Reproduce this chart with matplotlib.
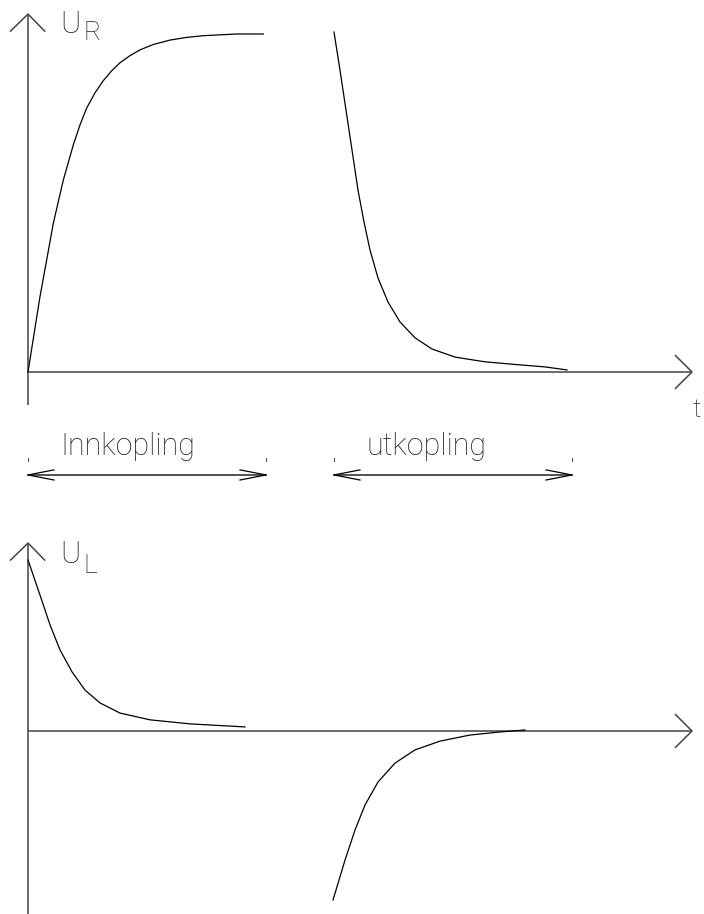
import matplotlib
matplotlib.use("Agg")
import matplotlib.pyplot as plt

# U_R during switch-on (charging) and switch-off (decay), t in ms, U normalised
t_ur_on = [0, 0.3, 0.633, 0.883, 1.133, 1.3, 1.467, 1.675, 1.883, 2.092, 2.3, 2.55,
           2.8, 3.133, 3.55, 3.967, 4.383, 5.217, 5.883]
ur_on = [0, 0.223, 0.440, 0.568, 0.672, 0.731, 0.781, 0.826, 0.862, 0.891, 0.915, 0.936,
         0.953, 0.969, 0.982, 0.990, 0.995, 1.0, 1.0]
t_ur_off = [7.65, 7.8, 7.95, 8.1, 8.25, 8.4, 8.55, 8.75, 9.0, 9.3, 9.675, 10.1,
            10.675, 11.425, 12.3, 12.925, 13.475]
ur_off = [1.006, 0.893, 0.775, 0.657, 0.538, 0.444, 0.361, 0.278, 0.207, 0.148, 0.101, 0.068,
          0.044, 0.030, 0.021, 0.015, 0.006]

# U_L over the same two intervals
t_ul_on = [0, 0.3, 0.55, 0.8, 1.1, 1.425, 1.8, 2.3, 3.05, 4.05, 5.425]
ul_on = [0.506, 0.402, 0.314, 0.240, 0.175, 0.121, 0.083, 0.053, 0.033, 0.021, 0.012]
t_ul_off = [7.625, 7.925, 8.175, 8.425, 8.75, 9.175, 9.675, 10.3, 11.05, 11.8, 12.425]
ul_off = [-0.5, -0.382, -0.293, -0.219, -0.151, -0.095, -0.056, -0.030, -0.012, -0.003, 0.003]

# interval markers under the U_R plot
intervals = [(0.0, 5.95, "Innkopling"), (7.65, 13.6, "utkopling")]

FONT = dict(family=["Roboto", "DejaVu Sans"], fontweight="light", color="#222222")
AX_KW = dict(color="#444444", lw=1.1, solid_capstyle="butt")
CURVE_KW = dict(color="black", lw=0.9, solid_joinstyle="round")

fig = plt.figure(figsize=(7.04, 9.14), dpi=100)
ax_r = fig.add_axes([0, 0.4530, 1, 0.5470])
ax_l = fig.add_axes([0, 0.0, 1, 0.4530])
ax_r.set_xlim(-0.7, 16.9)
ax_r.set_ylim(-0.3787, 1.1006)
ax_l.set_xlim(-0.7, 16.9)
ax_l.set_ylim(-0.5414, 0.6834)
for ax in (ax_r, ax_l):
    ax.axis("off")


def draw_axes(ax, y_bottom, y_top):
    # vertical axis with open arrow head
    ax.plot([0, 0], [y_bottom, y_top], **AX_KW)
    ax.plot([-0.45, 0, 0.43], [y_top - 0.052, y_top, y_top - 0.052], **AX_KW)
    # time axis with open arrow head
    ax.plot([0, 16.6], [0, 0], **AX_KW)
    ax.plot([16.175, 16.6, 16.175], [0.05, 0, -0.05], **AX_KW)


draw_axes(ax_r, -0.098, 1.059)
draw_axes(ax_l, -0.545, 0.556)

ax_r.plot(t_ur_on, ur_on, **CURVE_KW)
ax_r.plot(t_ur_off, ur_off, **CURVE_KW)
ax_l.plot(t_ul_on, ul_on, **CURVE_KW)
ax_l.plot(t_ul_off, ul_off, **CURVE_KW)

# axis labels
ax_r.text(0.8, 1.003, "U", fontsize=22, va="baseline", **FONT)
ax_r.text(1.375, 0.982, "R", fontsize=19, va="baseline", **FONT)
ax_r.text(16.6, -0.133, "t", fontsize=19, va="baseline", **FONT)
ax_l.text(0.8, 0.497, "U", fontsize=22, va="baseline", **FONT)
ax_l.text(1.375, 0.467, "L", fontsize=19, va="baseline", **FONT)

# double arrows marking switch-on and switch-off
y_arr = -0.3047
for t0, t1, label in intervals:
    ax_r.plot([t0, t1], [y_arr, y_arr], color="#444444", lw=1.3)
    ax_r.plot([t0 + 0.65, t0, t0 + 0.65], [y_arr + 0.015, y_arr, y_arr - 0.015], **CURVE_KW)
    ax_r.plot([t1 - 0.65, t1, t1 - 0.65], [y_arr + 0.015, y_arr, y_arr - 0.015], **CURVE_KW)
    for tt in (t0, t1):
        ax_r.plot([tt, tt], [-0.254, -0.264], color="#555555", lw=0.8)
    ax_r.text(t0 + 0.8, -0.2456, label, fontsize=22, va="baseline", **FONT)

fig.savefig("out.png", dpi=100)
